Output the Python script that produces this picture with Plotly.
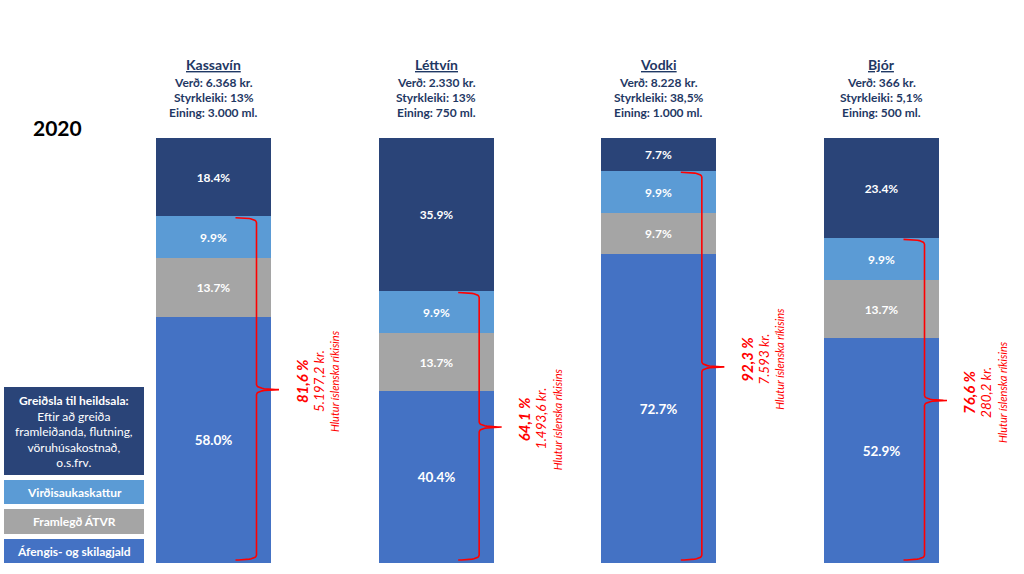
import plotly.graph_objects as go

# ---------------- data ----------------
categories = ["Kassavín", "Léttvín", "Vodki", "Bjór"]
prices = ["6.368", "2.330", "8.228", "366"]
strengths = ["13%", "13%", "38,5%", "5,1%"]
units = ["3.000 ml.", "750 ml.", "1.000 ml.", "500 ml."]

segment_names = ["Áfengis- og skilagjald", "Framlegð ÁTVR", "Virðisaukaskattur", "Greiðsla til heildsala"]
afengisgjald = [58.0, 40.4, 72.7, 52.9]
framlegd = [13.7, 13.7, 9.7, 13.7]
vsk = [9.9, 9.9, 9.9, 9.9]
heildsali = [18.4, 35.9, 7.7, 23.4]

state_pct = ["81,6", "64,1", "92,3", "76,6"]
state_kr = ["5.197,2", "1.493,6", "7.593", "280,2"]
year_label = "2020"

# ---------------- style ----------------
colors = ["#4472C4", "#A5A5A5", "#5B9BD5", "#2A4478"]
label_sizes = [13.5, 12, 12, 12]
navy = "#1F3864"
red = "#FF0000"
FONT = "Lato"

W, H = 1024, 574
PX_X = 222.67          # pixels per category step
PX_Y = 4.25            # pixels per percentage point
x_lo = -213.5 / PX_X
y_lo = -(H - 563) / PX_Y

def px_x(p):
    return p / PX_X

def px_y(p):
    return p / PX_Y

pos = list(range(len(categories)))
series = [afengisgjald, framlegd, vsk, heildsali]

fig = go.Figure()
for name, vals, col, fs in zip(segment_names, series, colors, label_sizes):
    fig.add_trace(go.Bar(
        x=pos, y=vals, name=name, width=115 / PX_X,
        marker=dict(color=col, line=dict(width=0)),
        texttemplate="<b>%{y:.1f}%</b>", textposition="inside",
        insidetextanchor="middle", constraintext="none",
        textfont=dict(color="white", size=fs, family=FONT),
        hoverinfo="skip",
    ))

# ---------------- braces and state share text ----------------
def quad(p0, c, p1, n=12):
    pts = []
    for i in range(n + 1):
        t = i / n
        x = (1 - t) ** 2 * p0[0] + 2 * (1 - t) * t * c[0] + t ** 2 * p1[0]
        y = (1 - t) ** 2 * p0[1] + 2 * (1 - t) * t * c[1] + t ** 2 * p1[1]
        pts.append((x, y))
    return pts

for i, xc in enumerate(pos):
    top = afengisgjald[i] + framlegd[i] + vsk[i]
    top_y = top - px_y(1.5)
    bot_y = px_y(3)
    mid = top / 2
    xv = xc + px_x(43)
    stub = px_x(21)
    tip = px_x(22.5)
    r = px_y(5)
    pts = []
    pts += quad((xv - stub, top_y), (xv, top_y), (xv, top_y - r))
    pts += quad((xv, mid + r), (xv, mid), (xv + tip, mid))
    pts += quad((xv + tip, mid), (xv, mid), (xv, mid - r))
    pts += quad((xv, bot_y + r), (xv, bot_y), (xv - stub, bot_y))
    fig.add_trace(go.Scatter(
        x=[p[0] for p in pts], y=[p[1] for p in pts], mode="lines",
        line=dict(color=red, width=1.6), hoverinfo="skip", showlegend=False,
    ))
    ty = mid + px_y(8)
    fig.add_annotation(x=xc + px_x(88), y=ty, text=f"<b><i>{state_pct[i]} %</i></b>",
                       textangle=-90, showarrow=False,
                       font=dict(color=red, size=15, family=FONT))
    fig.add_annotation(x=xc + px_x(105), y=ty, text=f"<i>{state_kr[i]} kr.</i>",
                       textangle=-90, showarrow=False,
                       font=dict(color=red, size=13.5, family=FONT))
    fig.add_annotation(x=xc + px_x(121), y=ty, text="<i>Hlutur íslenska ríkisins</i>",
                       textangle=-90, showarrow=False,
                       font=dict(color=red, size=11, family=FONT))

# ---------------- headers ----------------
for i, xc in enumerate(pos):
    fig.add_annotation(x=xc, y=(563 - 64) / PX_Y, text=f"<b>{categories[i]}</b>",
                       showarrow=False,
                       font=dict(color=navy, size=14, family=FONT, lineposition="under"))
    for txt, py in [(f"Verð: {prices[i]} kr.", 82), (f"Styrkleiki: {strengths[i]}", 97),
                    (f"Eining: {units[i]}", 112)]:
        fig.add_annotation(x=xc, y=(563 - py) / PX_Y, text=f"<b>{txt}</b>",
                           showarrow=False, font=dict(color=navy, size=12, family=FONT))

# ---------------- year ----------------
fig.add_annotation(xref="paper", yref="paper", x=57 / W, y=1 - 128 / H,
                   xanchor="center", yanchor="middle",
                   text=f"<b>{year_label}</b>", showarrow=False,
                   font=dict(color="black", size=21, family=FONT))

# ---------------- legend boxes ----------------
boxes = [
    (387, 475, colors[3], "<b>Greiðsla til heildsala:</b><br>Eftir að greiða<br>framleiðanda, flutning,<br>vöruhúsakostnað,<br>o.s.frv."),
    (480, 504, colors[2], f"<b>{segment_names[2]}</b>"),
    (509, 534, colors[1], f"<b>{segment_names[1]}</b>"),
    (539, 563, colors[0], f"<b>{segment_names[0]}</b>"),
]
for y0, y1, col, txt in boxes:
    fig.add_shape(type="rect", xref="paper", yref="paper",
                  x0=4 / W, x1=144 / W, y0=1 - y1 / H, y1=1 - y0 / H,
                  fillcolor=col, line=dict(width=0), layer="below")
    fig.add_annotation(xref="paper", yref="paper", x=74 / W, y=1 - (y0 + y1) / 2 / H,
                       xanchor="center", yanchor="middle",
                       text=txt, showarrow=False, align="center",
                       font=dict(color="white", size=12, family=FONT))

fig.update_layout(
    width=W, height=H, barmode="stack", showlegend=False,
    margin=dict(l=0, r=0, t=0, b=0),
    paper_bgcolor="white", plot_bgcolor="white",
    xaxis=dict(range=[x_lo, x_lo + W / PX_X], visible=False, fixedrange=True),
    yaxis=dict(range=[y_lo, y_lo + H / PX_Y], visible=False, fixedrange=True),
    bargap=0,
)

fig.write_html("out.html", config={"displayModeBar": False},
               post_script="document.body.style.margin='0';document.body.style.overflow='hidden';")
